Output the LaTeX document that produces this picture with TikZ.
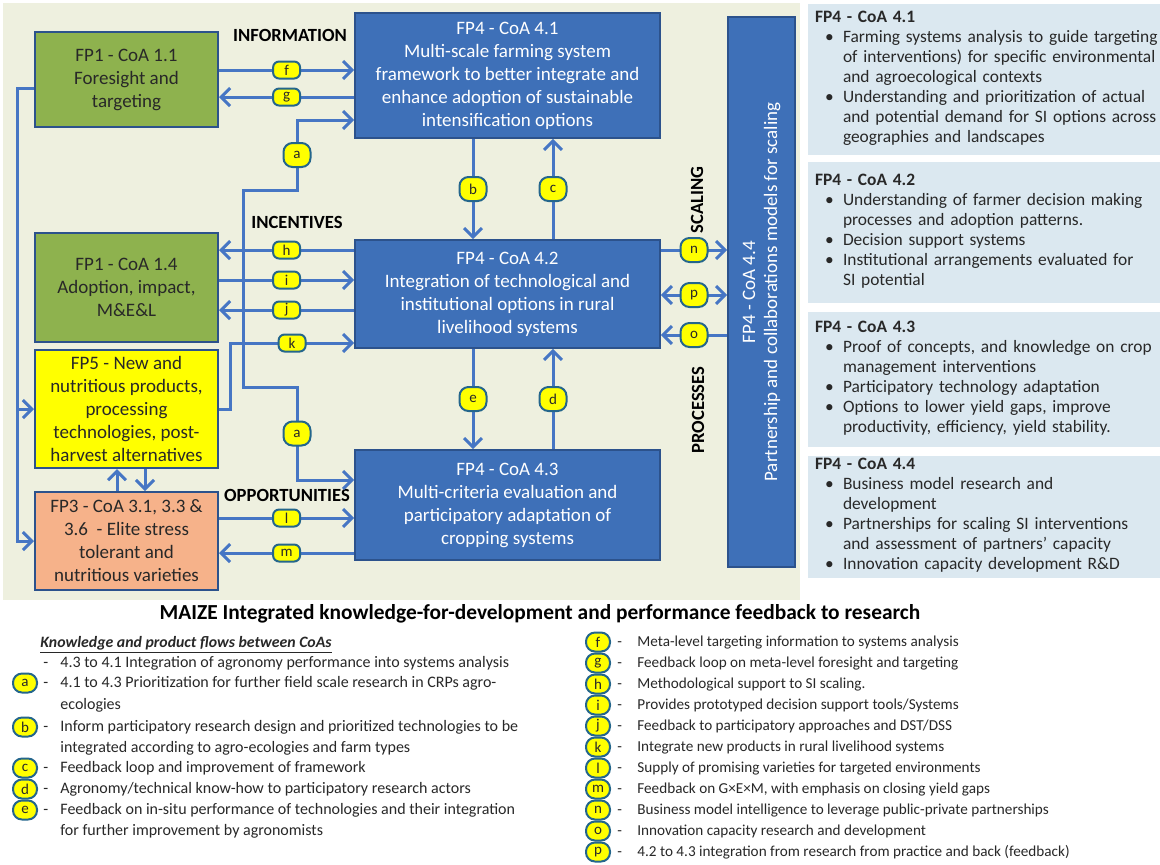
\documentclass[tikz,border=0pt]{standalone}
\usepackage{fontspec}
\setmainfont{Carlito}
\usetikzlibrary{arrows.meta, positioning, calc}
\definecolor{PaleSage}{RGB}{238,240,223}
\definecolor{PanelBlue}{RGB}{219,232,240}
\definecolor{CoaBlue}{RGB}{62,112,184}
\definecolor{EdgeBlue}{RGB}{44,82,140}
\definecolor{FlowBlue}{RGB}{70,118,196}
\definecolor{LeafGreen}{RGB}{142,178,78}
\definecolor{Peach}{RGB}{246,178,138}
\definecolor{Lemon}{RGB}{255,255,0}
\definecolor{TealRim}{RGB}{36,102,140}
\definecolor{InkGray}{RGB}{40,40,40}

\begin{document}
\begin{tikzpicture}[x=0.5pt, y=-0.5pt, >={Straight Barb[length=4.5pt,width=9pt]},
    every node/.style={align=center, inner sep=0pt},
    fpbox/.style={draw=EdgeBlue, line width=1pt, text=InkGray, minimum width=91.5pt, font=\fontsize{9.5}{11.5}\selectfont},
    coabox/.style={draw=EdgeBlue, line width=0.8pt, fill=CoaBlue, text=white, minimum width=152.5pt, font=\fontsize{9.5}{11.5}\selectfont},
    flow/.style={draw=FlowBlue, line width=1.5pt, ->},
    badge/.style={draw=TealRim, fill=Lemon, line width=1pt, rounded corners=3pt, minimum width=13.5pt, minimum height=8.5pt, text=InkGray, font=\fontsize{7.5}{7.5}\selectfont},
    tallbadge/.style={badge, minimum height=12pt, rounded corners=4.5pt},
    legbadge/.style={badge, minimum width=12pt, minimum height=9.5pt, rounded corners=4.5pt},
    tag/.style={font=\bfseries\fontsize{9.3}{10}\selectfont, text=black},
    panel/.style={fill=PanelBlue, text width=172pt, inner xsep=3.5pt, align=left, text=InkGray, font=\fontsize{8.7}{10}\selectfont},
    legtxt/.style={anchor=west, align=left, text=InkGray, font=\fontsize{8}{9}\selectfont, text height=5.5pt, text depth=1.5pt},
    legtxtr/.style={legtxt, font=\fontsize{7.6}{9}\selectfont}
]
\useasboundingbox (0,0) rectangle (1160,864);
\fill[white] (0,0) rectangle (1160,864);
\fill[PaleSage] (3,3) rectangle (800,600);

% Boxes on the left
\node[fpbox, fill=LeafGreen, minimum height=47.5pt] (fp11) at (126.5,79.5) {FP1 - CoA 1.1\\Foresight and\\targeting};
\node[fpbox, fill=LeafGreen, minimum height=54.5pt] (fp14) at (126.5,287.5) {FP1 - CoA 1.4\\Adoption, impact,\\M\&E\&L};
\node[fpbox, fill=Lemon, minimum height=59pt] (fp5) at (126.5,409) {FP5 - New and\\nutritious products,\\processing\\technologies, post-\\harvest alternatives};
\node[fpbox, fill=Peach, minimum height=49pt] (fp3) at (126.5,541) {FP3 - CoA 3.1, 3.3 \&\\3.6\ \ - Elite stress\\tolerant and\\nutritious varieties};

% FP4 boxes
\node[coabox, minimum height=62.5pt] (coa1) at (507.5,75.5) {FP4 - CoA 4.1\\Multi-scale farming system\\framework to better integrate and\\enhance adoption of sustainable\\intensification options};
\node[coabox, minimum height=54pt] (coa2) at (507.5,294) {FP4 - CoA 4.2\\Integration of technological and\\institutional options in rural\\livelihood systems};
\node[coabox, minimum height=55pt] (coa3) at (507.5,505) {FP4 - CoA 4.3\\Multi-criteria evaluation and\\participatory adaptation of\\cropping systems};
\node[coabox, minimum width=33.5pt, minimum height=275pt] (coa4) at (761.5,292) {};
\node[rotate=90, text=white, font=\fontsize{9.5}{11}\selectfont] (coa4txt) at (coa4.center) {FP4 - CoA 4.4\\Partnership and collaborations models for scaling};

% Flow labels
\node[tag] (linfo) at (290,35) {INFORMATION};
\node[tag] (lince) at (297,222) {INCENTIVES};
\node[tag] (lopp) at (287,495) {OPPORTUNITIES};
\node[tag, rotate=90] (lscal) at (697,200) {SCALING};
\node[tag, rotate=90] (lproc) at (698,410) {PROCESSES};

% Rows and columns of the connectors
\foreach \r/\yy in {f/70, g/97, a/120, a1/190, a2/387, a3/480, lft/88, h/250, i/280, j/310, k/343, l/518, m/553, n/250, p/295, o/335}
  \coordinate (r\r) at (0,\yy);
\foreach \c/\xx in {b/473, c/553, l/17, k/230, a/297, w/243, u/117, v/145}
  \coordinate (c\c) at (\xx,0);

% Connectors
\draw[flow] (fp11.east |- rf) -- node[badge] (bf) {f} (coa1.west |- rf);
\draw[flow] (coa1.west |- rg) -- node[badge] (bg) {g} (fp11.east |- rg);
\draw[flow, <->] (coa1.west |- ra) -| node[tallbadge, pos=0.75] (ba1) {a} (ca |- ra1) -| (cw |- ra2) -| node[tallbadge, pos=0.75] (ba2) {a} (ca |- ra3) -- (coa3.west |- ra3);
\draw[flow] (fp11.west |- rlft) -| (cl |- fp3.west) -- (fp3.west);
\draw[flow] (cl |- fp5.west) -- (fp5.west);
\draw[flow] (coa2.west |- rh) -- node[badge] (bh) {h} (fp14.east |- rh);
\draw[flow] (fp14.east |- ri) -- node[badge] (bi) {i} (coa2.west |- ri);
\draw[flow] (coa2.west |- rj) -- node[badge] (bj) {j} (fp14.east |- rj);
\draw[flow] (fp5.east) -| (ck |- rk) -- node[badge] (bk) {k} (coa2.west |- rk);
\draw[flow] (coa1.south -| cb) -- node[tallbadge] (bb) {b} (coa2.north -| cb);
\draw[flow] (coa2.north -| cc) -- node[tallbadge] (bc) {c} (coa1.south -| cc);
\draw[flow] (coa2.south -| cb) -- node[tallbadge] (be) {e} (coa3.north -| cb);
\draw[flow] (coa3.north -| cc) -- node[tallbadge] (bd) {d} (coa2.south -| cc);
\draw[flow] (fp3.east |- rl) -- node[badge] (bl) {l} (coa3.west |- rl);
\draw[flow] (coa3.west |- rm) -- node[badge] (bm) {m} (fp3.east |- rm);
\draw[flow] (coa2.east |- rn) -- node[tallbadge] (bn) {n} (coa4.west |- rn);
\draw[flow, <->] (coa2.east |- rp) -- node[tallbadge] (bp) {p} (coa4.west |- rp);
\draw[flow] (coa4.west |- ro) -- node[tallbadge] (bo) {o} (coa2.east |- ro);
\draw[flow] (fp3.north -| cu) -- (fp5.south -| cu);
\draw[flow] (fp5.south -| cv) -- (fp3.north -| cv);

% Panels on the right
\node[panel, minimum height=75.5pt] (pan1) at (987,79.5) {\textbf{FP4 - CoA 4.1}\\
  \begin{tabular}[t]{@{\hspace{5pt}}p{9pt}@{}l@{}}
  \textbullet & Farming systems analysis to guide targeting\\
   & of interventions) for specific environmental\\
   & and agroecological contexts\\
  \textbullet & Understanding and prioritization of actual\\
   & and potential demand for SI options across\\
   & geographies and landscapes
  \end{tabular}};
\node[panel, minimum height=70.5pt] (pan2) at (987,232.5) {\textbf{FP4 - CoA 4.2}\\
  \begin{tabular}[t]{@{\hspace{5pt}}p{9pt}@{}l@{}}
  \textbullet & Understanding of farmer decision making\\
   & processes and adoption patterns.\\
  \textbullet & Decision support systems\\
  \textbullet & Institutional arrangements evaluated for\\
   & SI potential
  \end{tabular}};
\node[panel, minimum height=67.5pt] (pan3) at (987,379.5) {\textbf{FP4 - CoA 4.3}\\
  \begin{tabular}[t]{@{\hspace{5pt}}p{9pt}@{}l@{}}
  \textbullet & Proof of concepts, and knowledge on crop\\
   & management interventions\\
  \textbullet & Participatory technology adaptation\\
  \textbullet & Options to lower yield gaps, improve\\
   & productivity, efficiency, yield stability.
  \end{tabular}};
\node[panel, minimum height=61pt] (pan4) at (987,517) {\textbf{FP4 - CoA 4.4}\\
  \begin{tabular}[t]{@{\hspace{5pt}}p{9pt}@{}l@{}}
  \textbullet & Business model research and\\
   & development\\
  \textbullet & Partnerships for scaling SI interventions\\
   & and assessment of partners’ capacity\\
  \textbullet & Innovation capacity development R\&D
  \end{tabular}};

% Title and legend
\node[font=\bfseries\fontsize{10.7}{12}\selectfont, text=black] (title) at (540,614) {MAIZE Integrated knowledge-for-development and performance feedback to research};
\node[legtxt, font=\bfseries\itshape\fontsize{7.9}{9}\selectfont] (keyhead) at (40,643) {\underline{Knowledge and product flows between CoAs}};
\node[legtxt] (dash0) at (43,663) {-};
\node[legtxt] (txt0) at (60,663) {4.3 to 4.1 Integration of agronomy performance into systems analysis};
\foreach \lbl/\yy/\txt in {a/683/{4.1 to 4.3 Prioritization for further field scale research in CRPs agro-},
    b/727/{Inform participatory research design and prioritized technologies to be},
    c/768/{Feedback loop and improvement of framework},
    d/789/{Agronomy/technical know-how to participatory research actors},
    e/810/{Feedback on in-situ performance of technologies and their integration}} {
  \node[legbadge] (key\lbl) at (25,\yy) {\lbl};
  \node[legtxt] (dash\lbl) at (43,\yy) {-};
  \node[legtxt] (txt\lbl) at (60,\yy) {\txt};
}
\foreach \n/\yy/\txt in {1/705/{ecologies}, 2/748/{integrated according to agro-ecologies and farm types}, 3/831/{for further improvement by agronomists}}
  \node[legtxt] (more\n) at (60,\yy) {\txt};
\foreach \lbl/\yy/\txt in {f/642/{Meta-level targeting information to systems analysis},
    g/663/{Feedback loop on meta-level foresight and targeting},
    h/684/{Methodological support to SI scaling.},
    i/705/{Provides prototyped decision support tools/Systems},
    j/726/{Feedback to participatory approaches and DST/DSS},
    k/747/{Integrate new products in rural livelihood systems},
    l/768/{Supply of promising varieties for targeted environments},
    m/789/{Feedback on G×E×M, with emphasis on closing yield gaps},
    n/810/{Business model intelligence to leverage public-private partnerships},
    o/831/{Innovation capacity research and development},
    p/852/{4.2 to 4.3 integration from research from practice and back (feedback)}} {
  \node[legbadge] (key\lbl) at (598,\yy) {\lbl};
  \node[legtxtr] (dash\lbl) at (617,\yy) {-};
  \node[legtxtr] (txt\lbl) at (637,\yy) {\txt};
}
\end{tikzpicture}
\end{document}
